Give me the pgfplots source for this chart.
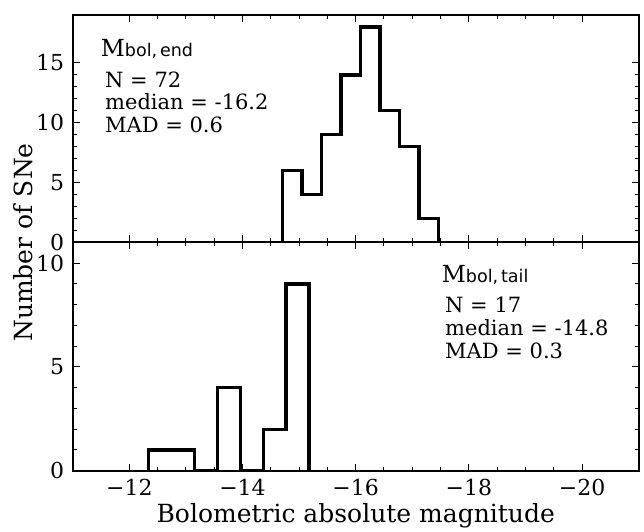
\documentclass[border=0pt]{standalone}
\usepackage{fontspec}
\setmainfont{DejaVu Serif}
\newfontfamily\dvsans{DejaVu Sans}
\usepackage{pgfplots}
\pgfplotsset{compat=1.18}
\pgfplotstableread{
x y
-14.708 0
-14.708 6
-15.052 4
-15.396 9
-15.740 14
-16.084 18
-16.428 11
-16.772 8
-17.116 2
-17.460 2
-17.460 0
}\endtab
\pgfplotstableread{
x y
-12.336 0
-12.336 1
-12.742 1
-13.148 0
-13.554 4
-13.960 0
-14.366 2
-14.772 9
-15.178 9
-15.178 0
}\tailtab
\begin{document}
\begin{tikzpicture}[x=1pt,y=1pt]
\pgfplotsset{
  panel/.style={
    scale only axis, width=566pt,
    xmin=-21, xmax=-11, x dir=reverse,
    xtick={-20,-18,-16,-14,-12},
    minor x tick num=3, minor y tick num=4,
    tick align=inside, xtick pos=both, ytick pos=both,
    major tick length=7pt, minor tick length=4pt,
    every tick/.style={black, line width=1pt},
    axis line style={line width=2pt},
    tick label style={font=\fontsize{22}{22}\selectfont},
    xticklabel style={yshift=-5pt},
    yticklabel style={xshift=-5pt},
    /pgf/number format/assume math mode=true,
  },
  hist/.style={const plot mark left, black, line width=3.4pt, line join=miter, no markers},
}
% bottom panel
\begin{axis}[panel, at={(0pt,0pt)}, anchor=south west, height=228.2pt,
  ymin=0, ymax=11, ytick={0,5,10},
  xticklabels={−20,−18,−16,−14,−12}]
\addplot[hist] table[x=x,y=y] {\tailtab};
\end{axis}
% top panel
\begin{axis}[panel, at={(0pt,228.2pt)}, anchor=south west, height=227.5pt,
  ymin=0, ymax=19, ytick={0,5,10,15},
  xticklabels={}]
\addplot[hist] table[x=x,y=y] {\endtab};
\end{axis}
% annotations (top)
\begin{scope}[every node/.style={anchor=base west, inner sep=0pt, font=\fontsize{21}{21}\selectfont}]
\node at (28,413.7) {\fontsize{23.5}{23.5}\selectfont M{\dvsans\fontsize{17.5}{17.5}\selectfont bol,\,end}};
\node at (32.3,383.2) {N = 72};
\node at (32.3,360.7) {median = -16.2};
\node at (32.3,338.2) {MAD = 0.6};
% annotations (bottom)
\node at (369,187.7) {\fontsize{23.5}{23.5}\selectfont M{\dvsans\fontsize{17.5}{17.5}\selectfont bol,\,tail}};
\node at (372.3,157.7) {N = 17};
\node at (372.3,134.7) {median = -14.8};
\node at (372.3,111.7) {MAD = 0.3};
\end{scope}
% axis labels
\node[rotate=90, anchor=center, font=\fontsize{25}{25}\selectfont] at (-50,228.2) {Number of SNe};
\node[anchor=base, font=\fontsize{25}{25}\selectfont] at (283,-51.8) {Bolometric absolute magnitude};
% canvas
\path (-72.7,-58.3) rectangle (571.3,470.7);
\end{tikzpicture}
\end{document}
